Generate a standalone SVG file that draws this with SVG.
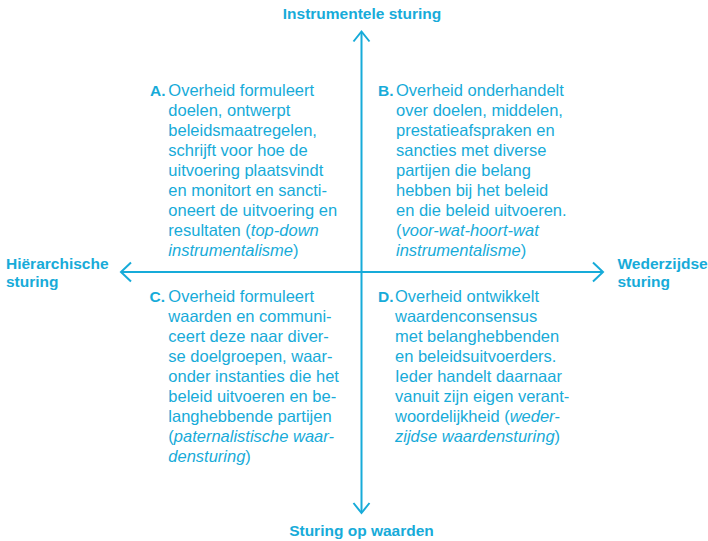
<svg xmlns="http://www.w3.org/2000/svg" width="708" height="541" viewBox="0 0 708 541">
<style>
.t{font-family:"Liberation Sans",Arial,sans-serif;font-size:16.5px;fill:#17abd9}
.b{font-family:"Liberation Sans",Arial,sans-serif;font-size:15.5px;font-weight:bold;fill:#17abd9}
.ax{stroke:#17abd9;stroke-width:2;fill:none}
</style>
<rect width="708" height="541" fill="#ffffff"/>
<g id="connectors">
<line class="ax" x1="361.5" y1="32" x2="361.5" y2="512"/>
<polyline class="ax" points="353.5,41.5 361.5,31.5 369.5,41.5"/>
<polyline class="ax" points="353.5,503 361.5,513 369.5,503"/>
<line class="ax" x1="121" y1="272" x2="603" y2="272"/>
<polyline class="ax" points="131,262.5 121,272 131,281.5"/>
<polyline class="ax" points="593,262.5 603,272 593,281.5"/>
</g>
<g id="label-top"><text class="b" x="362" y="18.5" text-anchor="middle">Instrumentele sturing</text></g>
<g id="label-bottom"><text class="b" x="361.5" y="536" text-anchor="middle">Sturing op waarden</text></g>
<g id="label-left"><text class="b" x="6" y="268.5">Hiërarchische</text><text class="b" x="6" y="287">sturing</text></g>
<g id="label-right"><text class="b" x="617.5" y="268.5">Wederzijdse</text><text class="b" x="617.5" y="287">sturing</text></g>
<g id="quadrant-a">
<text class="b" x="150" y="96">A.</text>
<text class="t" x="168.3" y="96">Overheid formuleert</text>
<text class="t" x="168.3" y="116">doelen, ontwerpt</text>
<text class="t" x="168.3" y="136">beleidsmaatregelen,</text>
<text class="t" x="168.3" y="156">schrijft voor hoe de</text>
<text class="t" x="168.3" y="176">uitvoering plaatsvindt</text>
<text class="t" x="168.3" y="196">en monitort en sancti-</text>
<text class="t" x="168.3" y="216">oneert de uitvoering en</text>
<text class="t" x="168.3" y="236">resultaten (<tspan font-style="italic">top-down</tspan></text>
<text class="t" x="168.3" y="256"><tspan font-style="italic">instrumentalisme</tspan>)</text>
</g>
<g id="quadrant-b">
<text class="b" x="378" y="96">B.</text>
<text class="t" x="396" y="96">Overheid onderhandelt</text>
<text class="t" x="396" y="116">over doelen, middelen,</text>
<text class="t" x="396" y="136">prestatieafspraken en</text>
<text class="t" x="396" y="156">sancties met diverse</text>
<text class="t" x="396" y="176">partijen die belang</text>
<text class="t" x="396" y="196">hebben bij het beleid</text>
<text class="t" x="396" y="216">en die beleid uitvoeren.</text>
<text class="t" x="396" y="236">(<tspan font-style="italic">voor-wat-hoort-wat</tspan></text>
<text class="t" x="396" y="256"><tspan font-style="italic">instrumentalisme</tspan>)</text>
</g>
<g id="quadrant-c">
<text class="b" x="149.5" y="302">C.</text>
<text class="t" x="168.3" y="302">Overheid formuleert</text>
<text class="t" x="168.3" y="322">waarden en communi-</text>
<text class="t" x="168.3" y="342">ceert deze naar diver-</text>
<text class="t" x="168.3" y="362">se doelgroepen, waar-</text>
<text class="t" x="168.3" y="382">onder instanties die het</text>
<text class="t" x="168.3" y="402">beleid uitvoeren en be-</text>
<text class="t" x="168.3" y="422">langhebbende partijen</text>
<text class="t" x="168.3" y="442">(<tspan font-style="italic">paternalistische waar-</tspan></text>
<text class="t" x="168.3" y="462"><tspan font-style="italic">densturing</tspan>)</text>
</g>
<g id="quadrant-d">
<text class="b" x="378" y="302">D.</text>
<text class="t" x="395" y="302">Overheid ontwikkelt</text>
<text class="t" x="395" y="322">waardenconsensus</text>
<text class="t" x="395" y="342">met belanghebbenden</text>
<text class="t" x="395" y="362">en beleidsuitvoerders.</text>
<text class="t" x="395" y="382">Ieder handelt daarnaar</text>
<text class="t" x="395" y="402">vanuit zijn eigen verant-</text>
<text class="t" x="395" y="422">woordelijkheid (<tspan font-style="italic">weder-</tspan></text>
<text class="t" x="395" y="442"><tspan font-style="italic">zijdse waardensturing</tspan>)</text>
</g>
</svg>
